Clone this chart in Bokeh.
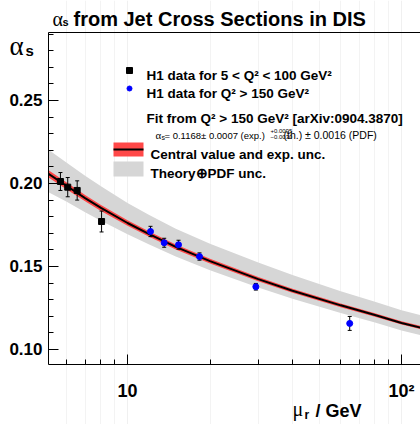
import math
from bokeh.plotting import figure
from bokeh.models import Range1d, FixedTicker, LinearAxis, Label, NumeralTickFormatter
from bokeh.embed import file_html
from bokeh.resources import INLINE

# ---------------- data ----------------
# H1 data, 5 < Q^2 < 100 GeV^2
lowq_mu = [5.69, 6.05, 6.55, 8.04]
lowq_as = [0.2012, 0.1978, 0.1958, 0.1771]
lowq_err = [0.0054, 0.0058, 0.0058, 0.0063]

# H1 data, Q^2 > 150 GeV^2
highq_mu = [12.13, 13.61, 15.35, 18.31, 29.4, 64.7]
highq_as = [0.1711, 0.1643, 0.1631, 0.1560, 0.1378, 0.1157]
highq_err = [0.0031, 0.0027, 0.0027, 0.0022, 0.0020, 0.0042]

# fit curve (central value), experimental unc., theory+PDF band edges
curve_mu = [5.15, 6, 7, 8, 10, 12, 15, 20, 30, 40, 60, 80, 100, 120]
curve_as = [0.2058, 0.1985, 0.1912, 0.1853, 0.1762, 0.1695, 0.1618, 0.1532,
            0.1424, 0.1354, 0.1266, 0.1208, 0.1160, 0.1128]
exp_unc = [0.0022, 0.0021, 0.0019, 0.0018, 0.0017, 0.0016, 0.0015, 0.0014,
           0.0013, 0.0012, 0.0011, 0.0011, 0.0010, 0.0010]
th_hi = [0.2203, 0.2125, 0.2047, 0.1983, 0.1882, 0.1810, 0.1728, 0.1637,
         0.1524, 0.1449, 0.1351, 0.1288, 0.1237, 0.1203]
th_lo = [0.1948, 0.1890, 0.1827, 0.1775, 0.1694, 0.1633, 0.1560, 0.1477,
         0.1374, 0.1306, 0.1220, 0.1163, 0.1115, 0.1083]

x_major = [10, 100]
x_minor = [6, 7, 8, 9, 20, 30, 40, 50, 60, 70, 80, 90]
y_major = [0.10, 0.15, 0.20, 0.25]
y_minor = [0.11, 0.12, 0.13, 0.14, 0.16, 0.17, 0.18, 0.19,
           0.21, 0.22, 0.23, 0.24, 0.26, 0.27, 0.28, 0.29]

# ---------------- geometry (page pixels -> data) ----------------
W, H = 420, 424
X0 = 5.1475          # data x at left frame edge (page x = 48)
Y0, Y1 = 0.09096, 0.29096   # data y at frame bottom (364) / top (32)
LX0 = math.log10(X0)


def px_x(px):
    return 10 ** (LX0 + (px - 48) / 274.0)


def px_y(py):
    return Y0 + (364 - py) / 1660.0


XR = px_x(W)
FONT = "Liberation Sans"

p = figure(width=W, height=H, x_axis_type="log",
           x_range=Range1d(px_x(0), px_x(W)), y_range=Range1d(px_y(H), px_y(0)),
           output_backend="svg", toolbar_location=None,
           min_border=0, min_border_left=0, min_border_right=0,
           min_border_top=0, min_border_bottom=0)
p.outline_line_color = None
p.background_fill_color = "white"
p.border_fill_color = "white"

# axes drawn at the data-region edges
p.xaxis.fixed_location = Y0
p.xaxis.bounds = (X0, XR * 1.05)
p.yaxis.fixed_location = X0
p.yaxis.bounds = (Y0, Y1)
p.xaxis.ticker = FixedTicker(ticks=x_major, minor_ticks=x_minor)
p.xaxis.major_label_overrides = {10: "10", 100: "10\u00b2"}
p.yaxis.ticker = FixedTicker(ticks=y_major, minor_ticks=y_minor)
p.yaxis.formatter = NumeralTickFormatter(format="0.00")
for ax in (p.xaxis[0], p.yaxis[0]):
    ax.major_tick_in = 10
    ax.major_tick_out = 0
    ax.minor_tick_in = 5
    ax.minor_tick_out = 0
    ax.axis_line_color = "black"
    ax.major_tick_line_color = "black"
    ax.minor_tick_line_color = "black"
    ax.major_label_text_font = FONT
    ax.major_label_text_font_style = "bold"
    ax.major_label_text_color = "black"
p.yaxis.major_label_text_font_size = "17px"
p.yaxis.major_label_standoff = 6
p.xaxis.major_label_text_font_size = "18px"
p.xaxis.major_label_standoff = 16

top = LinearAxis(ticker=FixedTicker(ticks=[]), major_label_text_font_size="0px",
                 major_tick_in=0, major_tick_out=0, minor_tick_in=0, minor_tick_out=0,
                 axis_line_color="black", fixed_location=Y1, bounds=(X0, XR * 1.05))
p.add_layout(top, "above")

p.ygrid.grid_line_color = None
p.xgrid.grid_line_color = "#f0f0f0"
p.xgrid.minor_grid_line_color = "#f3f3f3"
p.xgrid.bounds = (Y0, Y1)

# bands and curve
p.varea(x=curve_mu, y1=th_lo, y2=th_hi, fill_color="#d6d6d6")
exp_lo = [c - e for c, e in zip(curve_as, exp_unc)]
exp_hi = [c + e for c, e in zip(curve_as, exp_unc)]
p.varea(x=curve_mu, y1=exp_lo, y2=exp_hi, fill_color="#ff4848")
p.line(curve_mu, curve_as, line_width=2, line_color="black")

# error bars
for mus, vals, errs in ((lowq_mu, lowq_as, lowq_err), (highq_mu, highq_as, highq_err)):
    lo = [v - e for v, e in zip(vals, errs)]
    hi = [v + e for v, e in zip(vals, errs)]
    p.segment(x0=mus, y0=lo, x1=mus, y1=hi, line_color="black", line_width=1)
    p.scatter(mus, lo, marker="dash", size=4, line_color="black", line_width=1)
    p.scatter(mus, hi, marker="dash", size=4, line_color="black", line_width=1)

p.scatter(lowq_mu, lowq_as, marker="square", size=6, fill_color="black", line_color="black")
p.scatter(highq_mu, highq_as, marker="circle", size=6, fill_color="blue", line_color="blue")


def label(px, py, text, size, font=FONT, style="bold"):
    p.add_layout(Label(x=px_x(px), y=px_y(py), text=text, text_font=font,
                       text_font_size=size, text_font_style=style,
                       text_color="black", text_baseline="alphabetic",
                       text_align="left"))


# title
label(52, 18.5, "\u03b1", "20px", font="Liberation Serif", style="normal")
label(62, 21, "s", "11px")
label(73, 18.5, "from Jet Cross Sections in DIS", "20px")

# y label
label(9, 45, "\u03b1", "27px", font="Liberation Serif", style="normal")
label(25, 50, "s", "15px")

# x label
label(292, 408, "\u03bc", "20px", font="Liberation Serif", style="normal")
label(304, 414, "r", "12px")
label(315, 410, "/ GeV", "18px")

# legend
p.scatter([px_x(129)], [px_y(70)], marker="square", size=6, fill_color="black", line_color="black")
p.scatter([px_x(129)], [px_y(88)], marker="circle", size=5, fill_color="blue", line_color="blue")
label(146, 75, "H1 data for 5 < Q\u00b2 < 100 GeV\u00b2", "13.5px")
label(146, 93, "H1 data for Q\u00b2 > 150 GeV\u00b2", "13.5px")
label(146, 118, "Fit from Q\u00b2 > 150 GeV\u00b2 [arXiv:0904.3870]", "13.5px")

label(155, 134.5, "\u03b1", "11px", font="Liberation Serif", style="normal")
label(161, 136.5, "s", "7px", style="normal")
label(164, 134.5, "= 0.1168\u00b1 0.0007 (exp.)", "9.5px", style="normal")
label(270, 130, "+0.0095", "6px", style="normal")
label(270, 136, "\u22120.0030", "6px", style="normal")
label(283, 134.5, "(th.) \u00b1 0.0016 (PDF)", "10.5px", style="normal")

p.quad(left=[px_x(113)], right=[px_x(143)], bottom=[px_y(156)], top=[px_y(142)],
       fill_color="#ff4848", line_color=None)
p.line([px_x(113), px_x(143)], [px_y(149), px_y(149)], line_width=2, line_color="black")
p.quad(left=[px_x(113)], right=[px_x(143)], bottom=[px_y(176)], top=[px_y(161)],
       fill_color="#d6d6d6", line_color=None)
label(150, 154, "Central value and exp. unc.", "13.5px")
label(150, 173, "Theory\u2295PDF unc.", "13.5px")

open("out.html", "w").write(file_html(p, INLINE))
